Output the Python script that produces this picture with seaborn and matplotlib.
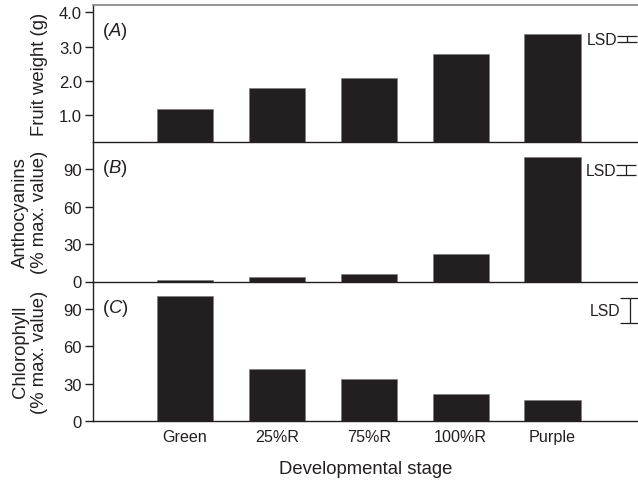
import numpy as np
import pandas as pd
import matplotlib
matplotlib.use("Agg")
import matplotlib.pyplot as plt
import seaborn as sns

# Valores
stages = ["Green", "25%R", "75%R", "100%R", "Purple"]
fruit_weight = [1.18, 1.79, 2.07, 2.79, 3.38]
anthocyanins = [1.5, 3.8, 6.0, 22.0, 100.0]
chlorophyll = [100.0, 42.0, 34.0, 21.3, 16.5]

# LSD: (centro, tamanho total)
lsd_weight = (3.22, 0.2)
lsd_antho = (89.5, 8.0)
lsd_chloro = (88.6, 20.0)

sns.set_theme(style="white")
plt.rcParams['font.family'] = ['Liberation Sans', 'DejaVu Sans']
plt.rcParams['mathtext.fontset'] = 'custom'
plt.rcParams['mathtext.it'] = 'Liberation Sans:italic'
plt.rcParams['mathtext.rm'] = 'Liberation Sans'

ink = '#231f20'

fig = plt.figure(figsize=(6.38, 4.81), dpi=100)
left = 93 / 638
tops = [6, 143, 282.5]
bottoms = [143, 282.5, 422]
axes = []
for t, b in zip(tops, bottoms):
    ax = fig.add_axes([left, 1 - b / 481, 1.0 - left, (b - t) / 481])
    ax.set_facecolor('none')
    axes.append(ax)

panels = [
    (fruit_weight, 'Fruit weight (g)', (0.2, 4.22), [1.0, 2.0, 3.0, 4.0], '(A)', lsd_weight, 628),
    (anthocyanins, 'Anthocyanins\n(% max. value)', (0, 112), [0, 30, 60, 90], '(B)', lsd_antho, 627),
    (chlorophyll, 'Chlorophyll\n(% max. value)', (0, 112), [0, 30, 60, 90], '(C)', lsd_chloro, 631),
]

for i, (ax, (vals, ylab, ylim, yt, tag, lsd, lsd_px)) in enumerate(zip(axes, panels)):
    df = pd.DataFrame({'stage': stages, 'value': vals})
    sns.barplot(data=df, x='stage', y='value', order=stages, color=ink,
                saturation=1, width=0.61, edgecolor='#777777', linewidth=0.4, ax=ax)
    ax.set_xlim(-1, 4.93)
    ax.set_ylim(*ylim)
    ax.set_yticks(yt)
    if i == 0:
        ax.set_yticklabels([f'{v:.1f}' for v in yt])
    else:
        ax.set_yticklabels([str(v) for v in yt])
    ax.tick_params(axis='y', direction='out', length=6, width=1, color=ink,
                   labelsize=12, labelcolor=ink, pad=2, left=True)
    ax.tick_params(axis='x', length=0, labelsize=11.6, labelcolor=ink, pad=6)
    ax.spines['right'].set_visible(False)
    ax.spines['top'].set_visible(i == 0)
    ax.spines['top'].set_color('#888888')
    ax.spines['left'].set_color(ink)
    ax.spines['bottom'].set_color(ink)
    ax.spines['left'].set_linewidth(1.0)
    ax.spines['bottom'].set_linewidth(1.0)
    ax.spines['bottom'].set_zorder(5)

    ax.set_ylabel(ylab, fontsize=13.3, color=ink, linespacing=1.15)
    ax.yaxis.set_label_coords(-45 / 545, 0.5)
    if i < 2:
        ax.set_xlabel('')
        ax.set_xticklabels([])
    else:
        ax.set_xlabel('Developmental stage', fontsize=13.3, color=ink, labelpad=11)

    label = tag[0] + r'$\mathit{' + tag[1] + '}$' + tag[2]
    ax.text(0.017, 0.815, label, transform=ax.transAxes, fontsize=13.3,
            color=ink, va='center', ha='left')

    # LSD
    x_lsd = (lsd_px - 93) / 92 - 1
    c, size = lsd
    ax.errorbar([x_lsd], [c], yerr=[size / 2], fmt='none', ecolor=ink,
                elinewidth=0.9, capsize=7, capthick=0.9, clip_on=False)
    ax.text(x_lsd - 0.11, c, 'LSD', fontsize=11.3, color=ink, ha='right', va='center')

fig.savefig('out.png', dpi=100)
